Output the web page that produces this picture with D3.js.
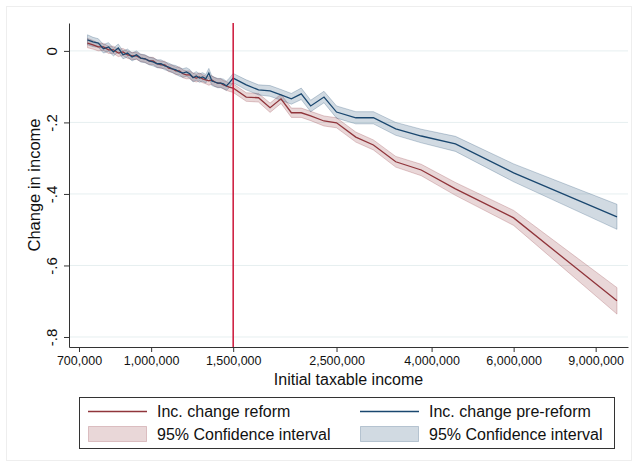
<!DOCTYPE html>
<html>
<head>
<meta charset="utf-8">
<script src="https://cdnjs.cloudflare.com/ajax/libs/d3/7.8.5/d3.min.js"></script>
<style>
  body { margin: 0; background: #fff; }
  svg { display: block; font-family: "Liberation Sans", Arial, sans-serif; }
</style>
</head>
<body>
<svg id="chart" width="638" height="467"></svg>
<script>
// income bins (x values)
const incomes = [
  730000, 750000, 770000, 790000, 810000, 830000, 850000, 870000, 890000, 910000,
  930000, 950000, 970000, 990000, 1010000, 1030000, 1050000, 1070000, 1090000, 1110000,
  1130000, 1150000, 1170000, 1190000, 1210000, 1230000, 1250000, 1270000, 1290000, 1310000,
  1330000, 1350000, 1370000, 1390000, 1410000, 1430000, 1450000, 1470000, 1500000,
  1600000, 1700000, 1800000, 1900000, 2000000, 2100000, 2200000, 2350000, 2500000,
  2750000, 3000000, 3350000, 3800000, 4500000, 6000000, 10000000
];

// Inc. change reform
const reform = [
  0.022, 0.017, 0.011, 0.011, 0.003, 0.003, -0.006, -0.003, -0.011, -0.014,
  -0.014, -0.020, -0.022, -0.028, -0.028, -0.036, -0.039, -0.039, -0.048, -0.050,
  -0.056, -0.056, -0.064, -0.067, -0.067, -0.073, -0.076, -0.073, -0.078, -0.081,
  -0.084, -0.081, -0.087, -0.090, -0.090, -0.095, -0.098, -0.101, -0.104,
  -0.129, -0.131, -0.159, -0.134, -0.173, -0.173, -0.182, -0.196, -0.201,
  -0.241, -0.263, -0.310, -0.333, -0.386, -0.467, -0.699
];
const reformCI = [
  0.013, 0.012, 0.011, 0.010, 0.010, 0.010, 0.010, 0.010, 0.010, 0.010,
  0.010, 0.010, 0.010, 0.010, 0.010, 0.010, 0.010, 0.010, 0.010, 0.010,
  0.011, 0.011, 0.011, 0.011, 0.011, 0.011, 0.011, 0.011, 0.011, 0.011,
  0.012, 0.012, 0.012, 0.012, 0.012, 0.012, 0.012, 0.012, 0.012,
  0.012, 0.012, 0.013, 0.013, 0.013, 0.013, 0.013, 0.014, 0.014,
  0.014, 0.014, 0.015, 0.016, 0.018, 0.021, 0.037
];

// Inc. change pre-reform
const preReform = [
  0.031, 0.025, 0.022, 0.006, 0.011, -0.003, 0.008, -0.011, -0.006, -0.017,
  -0.011, -0.020, -0.022, -0.028, -0.031, -0.036, -0.036, -0.042, -0.045, -0.050,
  -0.053, -0.059, -0.062, -0.059, -0.064, -0.075, -0.070, -0.076, -0.073, -0.078,
  -0.062, -0.084, -0.087, -0.090, -0.090, -0.092, -0.098, -0.090, -0.076,
  -0.095, -0.109, -0.112, -0.123, -0.134, -0.120, -0.154, -0.129, -0.171,
  -0.187, -0.187, -0.218, -0.238, -0.260, -0.341, -0.464
];
const preReformCI = [
  0.014, 0.013, 0.012, 0.012, 0.012, 0.011, 0.011, 0.011, 0.011, 0.011,
  0.011, 0.011, 0.011, 0.011, 0.011, 0.011, 0.011, 0.011, 0.011, 0.011,
  0.012, 0.012, 0.012, 0.012, 0.012, 0.012, 0.012, 0.012, 0.012, 0.012,
  0.013, 0.013, 0.013, 0.013, 0.013, 0.013, 0.013, 0.013, 0.013,
  0.014, 0.014, 0.015, 0.015, 0.015, 0.016, 0.016, 0.016, 0.017,
  0.017, 0.017, 0.018, 0.019, 0.021, 0.025, 0.035
];

const xTicks = [700000, 1000000, 1500000, 2500000, 4000000, 6000000, 9000000];
const yTicks = [0, -0.2, -0.4, -0.6, -0.8];
const yTickLabels = ["0", "-.2", "-.4", "-.6", "-.8"];
const reformLine = 1500000;
const legendLabels = ["Inc. change reform", "95% Confidence interval", "Inc. change pre-reform", "95% Confidence interval"];

const red = "#90353b", navy = "#1a476f";

const svg = d3.select("#chart");

// faint graph region outline
svg.append("rect")
  .attr("x", 6.5).attr("y", 6.5).attr("width", 625).attr("height", 454)
  .attr("fill", "none").attr("stroke", "#eeeeee");

const plot = { left: 69, right: 628, top: 23, bottom: 347 };

const x = d3.scaleLog().domain([666250, 10560000]).range([plot.left, plot.right]);
const y = d3.scaleLinear().domain([-0.828, 0.078]).range([plot.bottom, plot.top]);

// gridlines
svg.append("g")
  .selectAll("line")
  .data(yTicks)
  .join("line")
  .attr("x1", plot.left).attr("x2", plot.right)
  .attr("y1", (d) => y(d)).attr("y2", (d) => y(d))
  .attr("stroke", "#e6eff0").attr("stroke-width", 1);

const rows = incomes.map((inc, i) => ({
  inc: inc,
  r: reform[i], rLo: reform[i] - reformCI[i], rHi: reform[i] + reformCI[i],
  b: preReform[i], bLo: preReform[i] - preReformCI[i], bHi: preReform[i] + preReformCI[i]
}));

const areaR = d3.area().x((d) => x(d.inc)).y0((d) => y(d.rLo)).y1((d) => y(d.rHi));
const areaB = d3.area().x((d) => x(d.inc)).y0((d) => y(d.bLo)).y1((d) => y(d.bHi));
const lineR = d3.line().x((d) => x(d.inc)).y((d) => y(d.r));
const lineB = d3.line().x((d) => x(d.inc)).y((d) => y(d.b));

// confidence bands
svg.append("path").datum(rows).attr("d", areaR)
  .attr("fill", red).attr("fill-opacity", 0.2)
  .attr("stroke", red).attr("stroke-opacity", 0.25).attr("stroke-width", 1);
svg.append("path").datum(rows).attr("d", areaB)
  .attr("fill", navy).attr("fill-opacity", 0.2)
  .attr("stroke", navy).attr("stroke-opacity", 0.25).attr("stroke-width", 1);

// point estimates
svg.append("path").datum(rows).attr("d", lineR)
  .attr("fill", "none").attr("stroke", red).attr("stroke-width", 1.3);
svg.append("path").datum(rows).attr("d", lineB)
  .attr("fill", "none").attr("stroke", navy).attr("stroke-width", 1.3);

// reform threshold
svg.append("line")
  .attr("x1", x(reformLine)).attr("x2", x(reformLine))
  .attr("y1", plot.top).attr("y2", plot.bottom)
  .attr("stroke", "#cc1538").attr("stroke-width", 1.5);

// x axis
const xAxis = svg.append("g")
  .attr("transform", `translate(0, ${plot.bottom})`)
  .call(d3.axisBottom(x).tickValues(xTicks).tickFormat(d3.format(",")).tickSize(5).tickSizeOuter(0).tickPadding(4));
xAxis.selectAll("text").attr("font-size", 12.5).attr("fill", "#111").attr("font-family", null);
xAxis.selectAll("line, path").attr("stroke", "#333");

// y axis
const yAxis = svg.append("g")
  .attr("transform", `translate(${plot.left}, 0)`)
  .call(d3.axisLeft(y).tickValues(yTicks).tickFormat((d, i) => yTickLabels[i]).tickSize(5).tickSizeOuter(0));
yAxis.selectAll("text")
  .attr("font-size", 15).attr("fill", "#111").attr("font-family", null)
  .attr("text-anchor", "middle").attr("transform", "rotate(-90)")
  .attr("x", 0).attr("y", -12).attr("dy", 0);
yAxis.selectAll("line, path").attr("stroke", "#333");
svg.selectAll(".domain").attr("stroke", "#333");

// axis titles
svg.append("text")
  .attr("x", (plot.left + plot.right) / 2).attr("y", 385)
  .attr("text-anchor", "middle").attr("font-size", 16).attr("fill", "#111")
  .text("Initial taxable income");
svg.append("text")
  .attr("transform", `translate(40, ${(plot.top + plot.bottom) / 2}) rotate(-90)`)
  .attr("text-anchor", "middle").attr("font-size", 16.5).attr("fill", "#111")
  .text("Change in income");

// legend
const legend = svg.append("g");
legend.append("rect")
  .attr("x", 79.5).attr("y", 397.5).attr("width", 535).attr("height", 51)
  .attr("fill", "#fff").attr("stroke", "#333");

const cols = [{ x: 88, color: red }, { x: 360, color: navy }];
cols.forEach((c, i) => {
  legend.append("line")
    .attr("x1", c.x).attr("x2", c.x + 59).attr("y1", 411.5).attr("y2", 411.5)
    .attr("stroke", c.color).attr("stroke-width", 1.3);
  legend.append("rect")
    .attr("x", c.x + 0.5).attr("y", 426.5).attr("width", 58).attr("height", 15)
    .attr("fill", c.color).attr("fill-opacity", 0.2)
    .attr("stroke", c.color).attr("stroke-opacity", 0.25);
  legend.append("text")
    .attr("x", c.x + 69).attr("y", 417).attr("font-size", 16).attr("fill", "#111")
    .text(legendLabels[i * 2]);
  legend.append("text")
    .attr("x", c.x + 69).attr("y", 440).attr("font-size", 16).attr("fill", "#111")
    .text(legendLabels[i * 2 + 1]);
});
</script>
</body>
</html>
